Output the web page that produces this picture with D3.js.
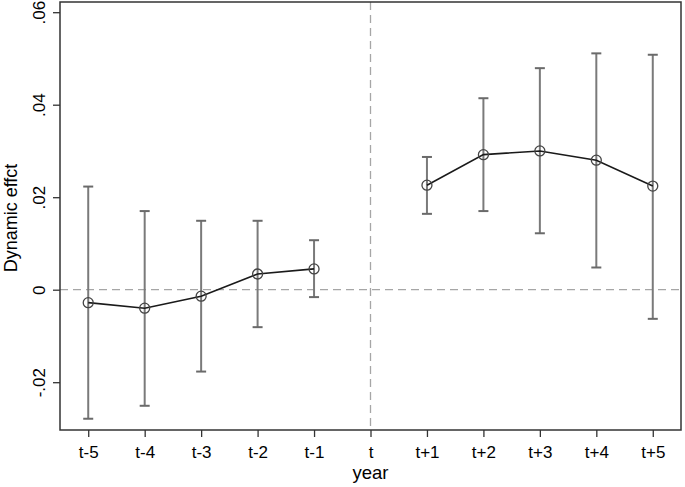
<!DOCTYPE html>
<html>
<head>
<meta charset="utf-8">
<script src="https://cdn.jsdelivr.net/npm/d3@7"></script>
<style>
  body { margin: 0; background: #fff; }
  text { font-family: "Liberation Sans", Arial, sans-serif; fill: #000; }
</style>
</head>
<body>
<script>
// chart data
const periods = ["t-5","t-4","t-3","t-2","t-1","t","t+1","t+2","t+3","t+4","t+5"];
const preIdx  = [-5,-4,-3,-2,-1];
const preEst  = [-0.0028,-0.0040,-0.0014,0.0034,0.0045];
const preLo   = [-0.0279,-0.0251,-0.0177,-0.0081,-0.0016];
const preHi   = [0.0223,0.0170,0.0149,0.0149,0.0107];
const postIdx = [1,2,3,4,5];
const postEst = [0.0226,0.0292,0.0300,0.0280,0.0224];
const postLo  = [0.0164,0.0170,0.0122,0.0048,-0.0063];
const postHi  = [0.0287,0.0414,0.0479,0.0511,0.0508];
const yTicks  = [-0.02,0,0.02,0.04,0.06];
const yTickLabels = ["-.02","0",".02",".04",".06"];

const width = 685, height = 487;
const plotL = 60, plotR = 681, plotT = 2, plotB = 430;

const svg = d3.select("body").append("svg")
  .attr("width", width).attr("height", height);

const x = d3.scaleLinear().domain([-5.5, 5.5]).range([plotL, plotR]);
const y = d3.scaleLinear().domain([0, 0.06]).range([289.7, 12.2]);

// reference lines
svg.append("line")
  .attr("x1", plotL).attr("x2", plotR)
  .attr("y1", y(0)).attr("y2", y(0))
  .attr("stroke", "#a6a6a6").attr("stroke-width", 1.3)
  .attr("stroke-dasharray", "8,5");
svg.append("line")
  .attr("x1", x(0)).attr("x2", x(0))
  .attr("y1", plotT).attr("y2", plotB)
  .attr("stroke", "#a6a6a6").attr("stroke-width", 1.3)
  .attr("stroke-dasharray", "8,5");

// frame
svg.append("rect")
  .attr("x", plotL).attr("y", plotT)
  .attr("width", plotR - plotL).attr("height", plotB - plotT)
  .attr("fill", "none").attr("stroke", "#333").attr("stroke-width", 1.5);

// y axis
const yAxis = svg.append("g").attr("transform", `translate(${plotL},0)`)
  .call(d3.axisLeft(y).tickValues(yTicks).tickSize(7)
    .tickFormat((d, i) => yTickLabels[i]));
yAxis.select(".domain").remove();
yAxis.selectAll(".tick line").attr("stroke", "#333").attr("stroke-width", 1.3);
yAxis.selectAll(".tick text")
  .attr("transform", "rotate(-90)")
  .attr("x", 0).attr("y", -15).attr("dy", 0)
  .attr("text-anchor", "middle")
  .style("font-size", "17px");

// x axis
const xAxis = svg.append("g").attr("transform", `translate(0,${plotB})`)
  .call(d3.axisBottom(x).tickValues(d3.range(-5, 6)).tickSize(7)
    .tickFormat(d => periods[d + 5]));
xAxis.select(".domain").remove();
xAxis.selectAll(".tick line").attr("stroke", "#333").attr("stroke-width", 1.3);
xAxis.selectAll(".tick text")
  .attr("y", 28).attr("dy", 0)
  .style("font-size", "17px");

// axis titles
svg.append("text")
  .attr("x", x(0)).attr("y", 479)
  .attr("text-anchor", "middle")
  .style("font-size", "18.5px")
  .text("year");
svg.append("text")
  .attr("transform", `translate(17,218) rotate(-90)`)
  .attr("text-anchor", "middle")
  .style("font-size", "18px")
  .text("Dynamic effct");

function drawSeries(idx, est, lo, hi) {
  const rows = idx.map((d, i) => ({k: d, e: est[i], l: lo[i], h: hi[i]}));
  const g = svg.append("g");
  // error bars
  g.selectAll(".ci").data(rows).enter().append("line")
    .attr("x1", d => x(d.k)).attr("x2", d => x(d.k))
    .attr("y1", d => y(d.l)).attr("y2", d => y(d.h))
    .attr("stroke", "#7a7a7a").attr("stroke-width", 2);
  g.selectAll(".capHi").data(rows).enter().append("line")
    .attr("x1", d => x(d.k) - 5).attr("x2", d => x(d.k) + 5)
    .attr("y1", d => y(d.h)).attr("y2", d => y(d.h))
    .attr("stroke", "#6a6a6a").attr("stroke-width", 2);
  g.selectAll(".capLo").data(rows).enter().append("line")
    .attr("x1", d => x(d.k) - 5).attr("x2", d => x(d.k) + 5)
    .attr("y1", d => y(d.l)).attr("y2", d => y(d.l))
    .attr("stroke", "#6a6a6a").attr("stroke-width", 2);
  // connecting line
  g.append("path").datum(rows)
    .attr("d", d3.line().x(d => x(d.k)).y(d => y(d.e)))
    .attr("fill", "none").attr("stroke", "#1a1a1a").attr("stroke-width", 1.6);
  // markers
  g.selectAll(".pt").data(rows).enter().append("circle")
    .attr("cx", d => x(d.k)).attr("cy", d => y(d.e))
    .attr("r", 5)
    .attr("fill", "none").attr("stroke", "#444").attr("stroke-width", 1.3);
}

drawSeries(preIdx, preEst, preLo, preHi);
drawSeries(postIdx, postEst, postLo, postHi);
</script>
</body>
</html>
